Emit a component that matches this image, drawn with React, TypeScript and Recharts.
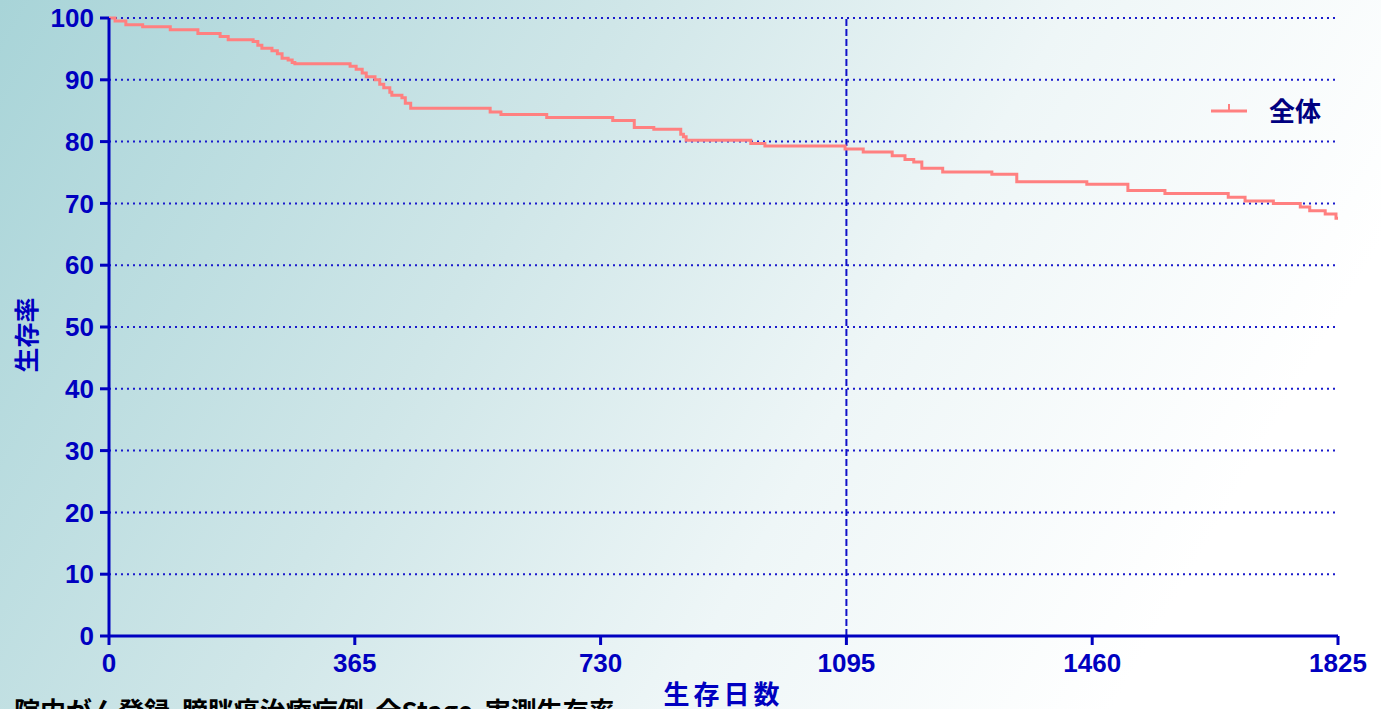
import { LineChart, Line, XAxis, YAxis, CartesianGrid, ReferenceLine } from 'recharts'

// survival curve: day where each step starts, and its value (%)
const days = [0, 9, 25, 50, 91, 132, 165, 177, 214, 221, 227, 242, 250, 257, 266, 272, 276, 358, 367, 376, 382, 395, 402, 408, 417, 420, 435, 440, 448, 566, 582, 650, 748, 780, 809, 849, 853, 857, 953, 974, 1093, 1120, 1163, 1182, 1195, 1207, 1238, 1311, 1348, 1452, 1513, 1568, 1662, 1687, 1729, 1769, 1783, 1806, 1822, 1825]
const survival = [100, 99.5, 98.9, 98.6, 98.1, 97.5, 97.0, 96.5, 96.2, 95.6, 95.1, 94.7, 94.2, 93.5, 93.2, 92.8, 92.6, 92.2, 91.7, 91.1, 90.5, 90.0, 89.3, 88.7, 88.0, 87.5, 87.1, 86.2, 85.4, 84.8, 84.4, 83.9, 83.4, 82.3, 82.0, 81.2, 80.8, 80.2, 79.7, 79.3, 78.8, 78.3, 77.7, 77.1, 76.7, 75.7, 75.1, 74.7, 73.5, 73.1, 72.1, 71.6, 71.0, 70.4, 70.0, 69.4, 68.8, 68.3, 67.6, 67.6]

const xTicks = [0, 365, 730, 1095, 1460, 1825]
const yTicks = [0, 10, 20, 30, 40, 50, 60, 70, 80, 90, 100]

const seriesName = '全体'
const xTitle = '生存日数'
const yTitle = '生存率'
const footnote = '院内がん登録  膀胱癌治療症例  全Stage  実測生存率'

const BLUE = '#0000C0'
const LINE = '#FF8080'

const data = days.map((d, i) => ({ day: d, rate: survival[i] }))

const XTick = ({ x, y, payload }: any) => (
  <text x={x} y={y + 25} textAnchor="middle" fill={BLUE} fontSize={26} fontWeight="bold"
    fontFamily="Liberation Sans">
    {payload.value}
  </text>
)

export default function App() {
  return (
    <div
      style={{
        position: 'fixed', left: 0, top: 0, width: 1381, height: 709, overflow: 'hidden',
        background: 'linear-gradient(120deg, #a8d4d8 0%, #cfe6e8 35%, #eef6f7 60%, #ffffff 85%)',
      }}
    >
      <LineChart width={1381} height={709} data={data} margin={{ top: 18, right: 43, bottom: 43, left: 49 }}>
        <CartesianGrid vertical={false} stroke="#1a1acc" strokeDasharray="2 4" strokeWidth={2} />
        <XAxis
          dataKey="day"
          type="number"
          domain={[0, 1825]}
          ticks={xTicks}
          height={30}
          interval={0}
          axisLine={{ stroke: BLUE, strokeWidth: 3 }}
          tickLine={{ stroke: BLUE, strokeWidth: 3 }}
          tickSize={9}
          tick={<XTick />}
          label={(props: any) => {
            const { viewBox } = props
            return (
              <text x={viewBox.x + viewBox.width / 2} y={704} textAnchor="middle" fill={BLUE} fontSize={26}
                fontWeight="bold" fontFamily="Noto Sans CJK JP" letterSpacing={4}>
                {xTitle}
              </text>
            )
          }}
        />
        <YAxis
          type="number"
          domain={[0, 100]}
          ticks={yTicks}
          width={60}
          interval={0}
          axisLine={{ stroke: BLUE, strokeWidth: 3 }}
          tickLine={{ stroke: BLUE, strokeWidth: 3 }}
          tickSize={9}
          tickMargin={6}
          tick={{ fill: BLUE, fontSize: 26, fontWeight: 'bold', fontFamily: 'Liberation Sans' }}
          label={() => (
            <text x={0} y={0} transform="translate(36,335) rotate(-90)" textAnchor="middle" fill={BLUE}
              fontSize={25} fontWeight="bold" fontFamily="Noto Sans CJK JP">
              {yTitle}
            </text>
          )}
        />
        <ReferenceLine x={1095} stroke="#1010c8" strokeWidth={2} strokeDasharray="7 3" />
        <Line
          type="stepAfter"
          dataKey="rate"
          name={seriesName}
          stroke={LINE}
          strokeWidth={3}
          dot={false}
          isAnimationActive={false}
        />
        {/* legend */}
        <g>
          <line x1={1211} y1={111} x2={1247} y2={111} stroke={LINE} strokeWidth={3} />
          <line x1={1229} y1={111} x2={1229} y2={104} stroke={LINE} strokeWidth={2} />
          <text x={1269} y={121} fill="#000080" fontSize={26} fontWeight="bold" fontFamily="Noto Sans CJK JP">
            {seriesName}
          </text>
        </g>
        <text x={14} y={721} fill="#000" fontSize={26} fontWeight="bold" fontFamily="Noto Sans CJK JP"
          style={{ whiteSpace: 'pre' }}>
          {footnote}
        </text>
      </LineChart>
    </div>
  )
}
